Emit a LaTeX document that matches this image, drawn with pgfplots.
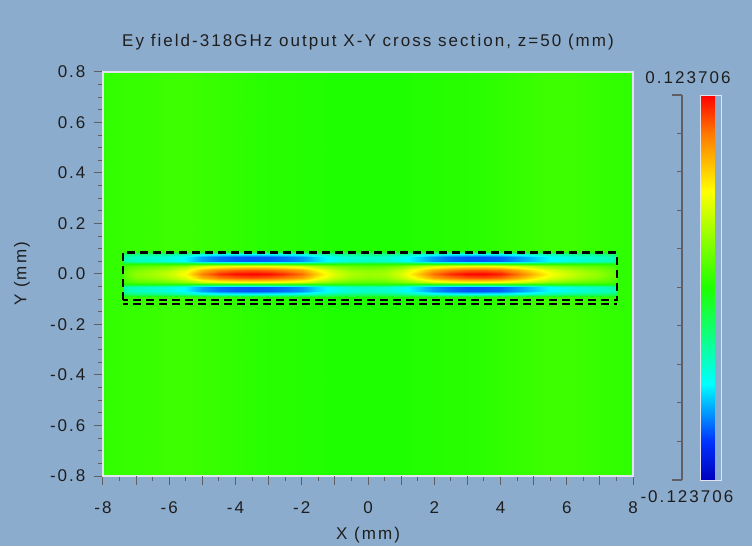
\documentclass[border=0pt]{standalone}
\usepackage{fontspec}
\setmainfont{Liberation Sans}[LetterSpace=12]
\usepackage{pgfplots}
\pgfplotsset{compat=1.18}
\definecolor{bgc}{RGB}{140,172,205}
\definecolor{tickc}{RGB}{95,95,100}
\definecolor{framec}{RGB}{228,228,238}
\definecolor{txt}{RGB}{30,30,30}
\begin{document}
\begin{tikzpicture}[font=\fontsize{17}{20}\selectfont, text=txt]
\fill[bgc] (0,0) rectangle (752pt,546pt);
\useasboundingbox (0,0) rectangle (752pt,546pt);
\begin{axis}[
  at={(103pt,70pt)}, anchor=south west, scale only axis,
  width=530pt, height=404pt,
  xmin=-8, xmax=8, ymin=-0.8, ymax=0.8,
  axis on top,
  colormap={ey}{rgb255(0pt)=(0,0,190); rgb255(2pt)=(0,50,255); rgb255(5pt)=(0,255,255); rgb255(10pt)=(30,255,0); rgb255(15pt)=(255,255,0); rgb255(18pt)=(255,120,0); rgb255(20pt)=(255,0,0)},
  point meta min=-0.123706, point meta max=0.123706,
  colorbar,
  colorbar style={at={(parent axis.south east)}, anchor=south west, xshift=59pt, yshift=-4pt,
    scale only axis, width=21pt, height=385pt, ytick=\empty, xtick=\empty,
    axis line style={draw=framec, line width=0.8pt}},
  xtick={-8,-6,...,8}, minor x tick num=3,
  extra x ticks={-7,-5,-3,-1,1,3,5,7}, extra x tick labels={},
  ytick={-0.8,-0.6,-0.4,-0.2,0,0.2,0.4,0.6,0.8}, minor y tick num=3,
  tick align=outside, tick pos=left,
  major tick length=9pt, minor tick length=5pt,
  tick style={draw=tickc, line width=1pt},
  axis line style={draw=framec, line width=1.2pt},
  /pgf/number format/assume math mode=true,
  yticklabel style={xshift=-5pt, /pgf/number format/fixed, /pgf/number format/fixed zerofill, /pgf/number format/precision=1},
  xticklabel style={yshift=-13pt},
  title={Ey field-318GHz output X-Y cross section, z=50 (mm)},
  title style={at={(axis description cs:0.5,1.048)}, anchor=base},
  xlabel={X (mm)},
  xlabel style={at={(axis description cs:0.5,-0.146)}, anchor=center},
  ylabel={Y (mm)},
  ylabel style={at={(axis description cs:-0.1528,0.5)}, anchor=center},
]
\addplot[surf, shader=interp, mesh/ordering=y varies, mesh/rows=17, mesh/cols=35,
  point meta={\thisrow{v}*0.123706}] table[row sep=\\] {
x y v\\
-8 -0.8 0.04\\ -8 -0.092 0.04\\ -8 -0.08 0.04\\ -8 -0.066 0.04\\ -8 -0.053 0.04\\ -8 -0.04 0.04\\ -8 -0.03 0.04\\ -8 -0.015 0.04\\ -8 0 0.04\\ -8 0.015 0.04\\ -8 0.03 0.04\\ -8 0.04 0.04\\ -8 0.053 0.04\\ -8 0.066 0.04\\ -8 0.08 0.04\\ -8 0.092 0.04\\ -8 0.8 0.04\\
-7.42 -0.8 0.05\\ -7.42 -0.092 0.05\\ -7.42 -0.08 0.05\\ -7.42 -0.066 0.05\\ -7.42 -0.053 0.05\\ -7.42 -0.04 0.05\\ -7.42 -0.03 0.05\\ -7.42 -0.015 0.05\\ -7.42 0 0.05\\ -7.42 0.015 0.05\\ -7.42 0.03 0.05\\ -7.42 0.04 0.05\\ -7.42 0.053 0.05\\ -7.42 0.066 0.05\\ -7.42 0.08 0.05\\ -7.42 0.092 0.05\\ -7.42 0.8 0.05\\
-7.38 -0.8 0.05\\ -7.38 -0.092 0.05\\ -7.38 -0.08 -0.21\\ -7.38 -0.066 -0.33\\ -7.38 -0.053 -0.33\\ -7.38 -0.04 0.01\\ -7.38 -0.03 0.08\\ -7.38 -0.015 0.13\\ -7.38 0 0.15\\ -7.38 0.015 0.13\\ -7.38 0.03 0.08\\ -7.38 0.04 0.01\\ -7.38 0.053 -0.33\\ -7.38 0.066 -0.33\\ -7.38 0.08 -0.21\\ -7.38 0.092 0.05\\ -7.38 0.8 0.05\\
-7 -0.8 0.05\\ -7 -0.092 0.05\\ -7 -0.08 -0.25\\ -7 -0.066 -0.38\\ -7 -0.053 -0.38\\ -7 -0.04 0.01\\ -7 -0.03 0.13\\ -7 -0.015 0.21\\ -7 0 0.25\\ -7 0.015 0.21\\ -7 0.03 0.13\\ -7 0.04 0.01\\ -7 0.053 -0.38\\ -7 0.066 -0.38\\ -7 0.08 -0.25\\ -7 0.092 0.05\\ -7 0.8 0.05\\
-6.5 -0.8 0.06\\ -6.5 -0.092 0.06\\ -6.5 -0.08 -0.26\\ -6.5 -0.066 -0.40\\ -6.5 -0.053 -0.40\\ -6.5 -0.04 0.02\\ -6.5 -0.03 0.15\\ -6.5 -0.015 0.26\\ -6.5 0 0.30\\ -6.5 0.015 0.26\\ -6.5 0.03 0.15\\ -6.5 0.04 0.02\\ -6.5 0.053 -0.40\\ -6.5 0.066 -0.40\\ -6.5 0.08 -0.26\\ -6.5 0.092 0.06\\ -6.5 0.8 0.06\\
-6 -0.8 0.07\\ -6 -0.092 0.07\\ -6 -0.08 -0.29\\ -6 -0.066 -0.44\\ -6 -0.053 -0.44\\ -6 -0.04 0.02\\ -6 -0.03 0.19\\ -6 -0.015 0.32\\ -6 0 0.38\\ -6 0.015 0.32\\ -6 0.03 0.19\\ -6 0.04 0.02\\ -6 0.053 -0.44\\ -6 0.066 -0.44\\ -6 0.08 -0.29\\ -6 0.092 0.07\\ -6 0.8 0.07\\
-5.5 -0.8 0.07\\ -5.5 -0.092 0.07\\ -5.5 -0.08 -0.33\\ -5.5 -0.066 -0.51\\ -5.5 -0.053 -0.51\\ -5.5 -0.04 0.03\\ -5.5 -0.03 0.26\\ -5.5 -0.015 0.44\\ -5.5 0 0.52\\ -5.5 0.015 0.44\\ -5.5 0.03 0.26\\ -5.5 0.04 0.03\\ -5.5 0.053 -0.51\\ -5.5 0.066 -0.51\\ -5.5 0.08 -0.33\\ -5.5 0.092 0.07\\ -5.5 0.8 0.07\\
-5 -0.8 0.06\\ -5 -0.092 0.06\\ -5 -0.08 -0.42\\ -5 -0.066 -0.64\\ -5 -0.053 -0.64\\ -5 -0.04 0.04\\ -5 -0.03 0.39\\ -5 -0.015 0.66\\ -5 0 0.78\\ -5 0.015 0.66\\ -5 0.03 0.39\\ -5 0.04 0.04\\ -5 0.053 -0.64\\ -5 0.066 -0.64\\ -5 0.08 -0.42\\ -5 0.092 0.06\\ -5 0.8 0.06\\
-4.5 -0.8 0.05\\ -4.5 -0.092 0.05\\ -4.5 -0.08 -0.46\\ -4.5 -0.066 -0.71\\ -4.5 -0.053 -0.71\\ -4.5 -0.04 0.05\\ -4.5 -0.03 0.46\\ -4.5 -0.015 0.78\\ -4.5 0 0.92\\ -4.5 0.015 0.78\\ -4.5 0.03 0.46\\ -4.5 0.04 0.05\\ -4.5 0.053 -0.71\\ -4.5 0.066 -0.71\\ -4.5 0.08 -0.46\\ -4.5 0.092 0.05\\ -4.5 0.8 0.05\\
-4 -0.8 0.04\\ -4 -0.092 0.04\\ -4 -0.08 -0.48\\ -4 -0.066 -0.74\\ -4 -0.053 -0.74\\ -4 -0.04 0.05\\ -4 -0.03 0.49\\ -4 -0.015 0.83\\ -4 0 0.98\\ -4 0.015 0.83\\ -4 0.03 0.49\\ -4 0.04 0.05\\ -4 0.053 -0.74\\ -4 0.066 -0.74\\ -4 0.08 -0.48\\ -4 0.092 0.04\\ -4 0.8 0.04\\
-3.5 -0.8 0.03\\ -3.5 -0.092 0.03\\ -3.5 -0.08 -0.49\\ -3.5 -0.066 -0.75\\ -3.5 -0.053 -0.75\\ -3.5 -0.04 0.05\\ -3.5 -0.03 0.50\\ -3.5 -0.015 0.85\\ -3.5 0 1.00\\ -3.5 0.015 0.85\\ -3.5 0.03 0.50\\ -3.5 0.04 0.05\\ -3.5 0.053 -0.75\\ -3.5 0.066 -0.75\\ -3.5 0.08 -0.49\\ -3.5 0.092 0.03\\ -3.5 0.8 0.03\\
-3 -0.8 0.02\\ -3 -0.092 0.02\\ -3 -0.08 -0.48\\ -3 -0.066 -0.74\\ -3 -0.053 -0.74\\ -3 -0.04 0.05\\ -3 -0.03 0.49\\ -3 -0.015 0.83\\ -3 0 0.98\\ -3 0.015 0.83\\ -3 0.03 0.49\\ -3 0.04 0.05\\ -3 0.053 -0.74\\ -3 0.066 -0.74\\ -3 0.08 -0.48\\ -3 0.092 0.02\\ -3 0.8 0.02\\
-2.5 -0.8 0.02\\ -2.5 -0.092 0.02\\ -2.5 -0.08 -0.46\\ -2.5 -0.066 -0.71\\ -2.5 -0.053 -0.71\\ -2.5 -0.04 0.05\\ -2.5 -0.03 0.46\\ -2.5 -0.015 0.78\\ -2.5 0 0.92\\ -2.5 0.015 0.78\\ -2.5 0.03 0.46\\ -2.5 0.04 0.05\\ -2.5 0.053 -0.71\\ -2.5 0.066 -0.71\\ -2.5 0.08 -0.46\\ -2.5 0.092 0.02\\ -2.5 0.8 0.02\\
-2 -0.8 0.01\\ -2 -0.092 0.01\\ -2 -0.08 -0.43\\ -2 -0.066 -0.66\\ -2 -0.053 -0.66\\ -2 -0.04 0.04\\ -2 -0.03 0.41\\ -2 -0.015 0.70\\ -2 0 0.82\\ -2 0.015 0.70\\ -2 0.03 0.41\\ -2 0.04 0.04\\ -2 0.053 -0.66\\ -2 0.066 -0.66\\ -2 0.08 -0.43\\ -2 0.092 0.01\\ -2 0.8 0.01\\
-1.5 -0.8 0.01\\ -1.5 -0.092 0.01\\ -1.5 -0.08 -0.36\\ -1.5 -0.066 -0.55\\ -1.5 -0.053 -0.55\\ -1.5 -0.04 0.03\\ -1.5 -0.03 0.30\\ -1.5 -0.015 0.51\\ -1.5 0 0.60\\ -1.5 0.015 0.51\\ -1.5 0.03 0.30\\ -1.5 0.04 0.03\\ -1.5 0.053 -0.55\\ -1.5 0.066 -0.55\\ -1.5 0.08 -0.36\\ -1.5 0.092 0.01\\ -1.5 0.8 0.01\\
-1 -0.8 0.00\\ -1 -0.092 0.00\\ -1 -0.08 -0.30\\ -1 -0.066 -0.46\\ -1 -0.053 -0.46\\ -1 -0.04 0.02\\ -1 -0.03 0.21\\ -1 -0.015 0.36\\ -1 0 0.42\\ -1 0.015 0.36\\ -1 0.03 0.21\\ -1 0.04 0.02\\ -1 0.053 -0.46\\ -1 0.066 -0.46\\ -1 0.08 -0.30\\ -1 0.092 0.00\\ -1 0.8 0.00\\
-0.5 -0.8 0.00\\ -0.5 -0.092 0.00\\ -0.5 -0.08 -0.27\\ -0.5 -0.066 -0.41\\ -0.5 -0.053 -0.41\\ -0.5 -0.04 0.02\\ -0.5 -0.03 0.16\\ -0.5 -0.015 0.27\\ -0.5 0 0.32\\ -0.5 0.015 0.27\\ -0.5 0.03 0.16\\ -0.5 0.04 0.02\\ -0.5 0.053 -0.41\\ -0.5 0.066 -0.41\\ -0.5 0.08 -0.27\\ -0.5 0.092 0.00\\ -0.5 0.8 0.00\\
0 -0.8 0.00\\ 0 -0.092 0.00\\ 0 -0.08 -0.25\\ 0 -0.066 -0.39\\ 0 -0.053 -0.39\\ 0 -0.04 0.01\\ 0 -0.03 0.14\\ 0 -0.015 0.24\\ 0 0 0.28\\ 0 0.015 0.24\\ 0 0.03 0.14\\ 0 0.04 0.01\\ 0 0.053 -0.39\\ 0 0.066 -0.39\\ 0 0.08 -0.25\\ 0 0.092 0.00\\ 0 0.8 0.00\\
0.5 -0.8 0.00\\ 0.5 -0.092 0.00\\ 0.5 -0.08 -0.26\\ 0.5 -0.066 -0.40\\ 0.5 -0.053 -0.40\\ 0.5 -0.04 0.02\\ 0.5 -0.03 0.15\\ 0.5 -0.015 0.26\\ 0.5 0 0.30\\ 0.5 0.015 0.26\\ 0.5 0.03 0.15\\ 0.5 0.04 0.02\\ 0.5 0.053 -0.40\\ 0.5 0.066 -0.40\\ 0.5 0.08 -0.26\\ 0.5 0.092 0.00\\ 0.5 0.8 0.00\\
1 -0.8 0.00\\ 1 -0.092 0.00\\ 1 -0.08 -0.30\\ 1 -0.066 -0.46\\ 1 -0.053 -0.46\\ 1 -0.04 0.02\\ 1 -0.03 0.21\\ 1 -0.015 0.36\\ 1 0 0.42\\ 1 0.015 0.36\\ 1 0.03 0.21\\ 1 0.04 0.02\\ 1 0.053 -0.46\\ 1 0.066 -0.46\\ 1 0.08 -0.30\\ 1 0.092 0.00\\ 1 0.8 0.00\\
1.5 -0.8 0.01\\ 1.5 -0.092 0.01\\ 1.5 -0.08 -0.36\\ 1.5 -0.066 -0.56\\ 1.5 -0.053 -0.56\\ 1.5 -0.04 0.03\\ 1.5 -0.03 0.31\\ 1.5 -0.015 0.53\\ 1.5 0 0.62\\ 1.5 0.015 0.53\\ 1.5 0.03 0.31\\ 1.5 0.04 0.03\\ 1.5 0.053 -0.56\\ 1.5 0.066 -0.56\\ 1.5 0.08 -0.36\\ 1.5 0.092 0.01\\ 1.5 0.8 0.01\\
2 -0.8 0.01\\ 2 -0.092 0.01\\ 2 -0.08 -0.43\\ 2 -0.066 -0.66\\ 2 -0.053 -0.66\\ 2 -0.04 0.04\\ 2 -0.03 0.41\\ 2 -0.015 0.70\\ 2 0 0.82\\ 2 0.015 0.70\\ 2 0.03 0.41\\ 2 0.04 0.04\\ 2 0.053 -0.66\\ 2 0.066 -0.66\\ 2 0.08 -0.43\\ 2 0.092 0.01\\ 2 0.8 0.01\\
2.5 -0.8 0.02\\ 2.5 -0.092 0.02\\ 2.5 -0.08 -0.47\\ 2.5 -0.066 -0.72\\ 2.5 -0.053 -0.72\\ 2.5 -0.04 0.05\\ 2.5 -0.03 0.47\\ 2.5 -0.015 0.79\\ 2.5 0 0.93\\ 2.5 0.015 0.79\\ 2.5 0.03 0.47\\ 2.5 0.04 0.05\\ 2.5 0.053 -0.72\\ 2.5 0.066 -0.72\\ 2.5 0.08 -0.47\\ 2.5 0.092 0.02\\ 2.5 0.8 0.02\\
3 -0.8 0.02\\ 3 -0.092 0.02\\ 3 -0.08 -0.49\\ 3 -0.066 -0.75\\ 3 -0.053 -0.75\\ 3 -0.04 0.05\\ 3 -0.03 0.50\\ 3 -0.015 0.84\\ 3 0 0.99\\ 3 0.015 0.84\\ 3 0.03 0.50\\ 3 0.04 0.05\\ 3 0.053 -0.75\\ 3 0.066 -0.75\\ 3 0.08 -0.49\\ 3 0.092 0.02\\ 3 0.8 0.02\\
3.5 -0.8 0.03\\ 3.5 -0.092 0.03\\ 3.5 -0.08 -0.49\\ 3.5 -0.066 -0.75\\ 3.5 -0.053 -0.75\\ 3.5 -0.04 0.05\\ 3.5 -0.03 0.50\\ 3.5 -0.015 0.85\\ 3.5 0 1.00\\ 3.5 0.015 0.85\\ 3.5 0.03 0.50\\ 3.5 0.04 0.05\\ 3.5 0.053 -0.75\\ 3.5 0.066 -0.75\\ 3.5 0.08 -0.49\\ 3.5 0.092 0.03\\ 3.5 0.8 0.03\\
4 -0.8 0.04\\ 4 -0.092 0.04\\ 4 -0.08 -0.47\\ 4 -0.066 -0.73\\ 4 -0.053 -0.73\\ 4 -0.04 0.05\\ 4 -0.03 0.48\\ 4 -0.015 0.81\\ 4 0 0.95\\ 4 0.015 0.81\\ 4 0.03 0.48\\ 4 0.04 0.05\\ 4 0.053 -0.73\\ 4 0.066 -0.73\\ 4 0.08 -0.47\\ 4 0.092 0.04\\ 4 0.8 0.04\\
4.5 -0.8 0.05\\ 4.5 -0.092 0.05\\ 4.5 -0.08 -0.43\\ 4.5 -0.066 -0.66\\ 4.5 -0.053 -0.66\\ 4.5 -0.04 0.04\\ 4.5 -0.03 0.41\\ 4.5 -0.015 0.70\\ 4.5 0 0.82\\ 4.5 0.015 0.70\\ 4.5 0.03 0.41\\ 4.5 0.04 0.04\\ 4.5 0.053 -0.66\\ 4.5 0.066 -0.66\\ 4.5 0.08 -0.43\\ 4.5 0.092 0.05\\ 4.5 0.8 0.05\\
5 -0.8 0.06\\ 5 -0.092 0.06\\ 5 -0.08 -0.38\\ 5 -0.066 -0.58\\ 5 -0.053 -0.58\\ 5 -0.04 0.03\\ 5 -0.03 0.33\\ 5 -0.015 0.55\\ 5 0 0.65\\ 5 0.015 0.55\\ 5 0.03 0.33\\ 5 0.04 0.03\\ 5 0.053 -0.58\\ 5 0.066 -0.58\\ 5 0.08 -0.38\\ 5 0.092 0.06\\ 5 0.8 0.06\\
5.5 -0.8 0.07\\ 5.5 -0.092 0.07\\ 5.5 -0.08 -0.33\\ 5.5 -0.066 -0.50\\ 5.5 -0.053 -0.50\\ 5.5 -0.04 0.03\\ 5.5 -0.03 0.25\\ 5.5 -0.015 0.43\\ 5.5 0 0.50\\ 5.5 0.015 0.43\\ 5.5 0.03 0.25\\ 5.5 0.04 0.03\\ 5.5 0.053 -0.50\\ 5.5 0.066 -0.50\\ 5.5 0.08 -0.33\\ 5.5 0.092 0.07\\ 5.5 0.8 0.07\\
6 -0.8 0.07\\ 6 -0.092 0.07\\ 6 -0.08 -0.29\\ 6 -0.066 -0.45\\ 6 -0.053 -0.45\\ 6 -0.04 0.02\\ 6 -0.03 0.20\\ 6 -0.015 0.34\\ 6 0 0.40\\ 6 0.015 0.34\\ 6 0.03 0.20\\ 6 0.04 0.02\\ 6 0.053 -0.45\\ 6 0.066 -0.45\\ 6 0.08 -0.29\\ 6 0.092 0.07\\ 6 0.8 0.07\\
6.5 -0.8 0.06\\ 6.5 -0.092 0.06\\ 6.5 -0.08 -0.27\\ 6.5 -0.066 -0.41\\ 6.5 -0.053 -0.41\\ 6.5 -0.04 0.02\\ 6.5 -0.03 0.16\\ 6.5 -0.015 0.27\\ 6.5 0 0.32\\ 6.5 0.015 0.27\\ 6.5 0.03 0.16\\ 6.5 0.04 0.02\\ 6.5 0.053 -0.41\\ 6.5 0.066 -0.41\\ 6.5 0.08 -0.27\\ 6.5 0.092 0.06\\ 6.5 0.8 0.06\\
7 -0.8 0.05\\ 7 -0.092 0.05\\ 7 -0.08 -0.25\\ 7 -0.066 -0.38\\ 7 -0.053 -0.38\\ 7 -0.04 0.01\\ 7 -0.03 0.13\\ 7 -0.015 0.21\\ 7 0 0.25\\ 7 0.015 0.21\\ 7 0.03 0.13\\ 7 0.04 0.01\\ 7 0.053 -0.38\\ 7 0.066 -0.38\\ 7 0.08 -0.25\\ 7 0.092 0.05\\ 7 0.8 0.05\\
7.48 -0.8 0.04\\ 7.48 -0.092 0.04\\ 7.48 -0.08 -0.21\\ 7.48 -0.066 -0.33\\ 7.48 -0.053 -0.33\\ 7.48 -0.04 0.01\\ 7.48 -0.03 0.08\\ 7.48 -0.015 0.13\\ 7.48 0 0.15\\ 7.48 0.015 0.13\\ 7.48 0.03 0.08\\ 7.48 0.04 0.01\\ 7.48 0.053 -0.33\\ 7.48 0.066 -0.33\\ 7.48 0.08 -0.21\\ 7.48 0.092 0.04\\ 7.48 0.8 0.04\\
7.52 -0.8 0.04\\ 7.52 -0.092 0.04\\ 7.52 -0.08 0.04\\ 7.52 -0.066 0.04\\ 7.52 -0.053 0.04\\ 7.52 -0.04 0.04\\ 7.52 -0.03 0.04\\ 7.52 -0.015 0.04\\ 7.52 0 0.04\\ 7.52 0.015 0.04\\ 7.52 0.03 0.04\\ 7.52 0.04 0.04\\ 7.52 0.053 0.04\\ 7.52 0.066 0.04\\ 7.52 0.08 0.04\\ 7.52 0.092 0.04\\ 7.52 0.8 0.04\\
8 -0.8 0.03\\ 8 -0.092 0.03\\ 8 -0.08 0.03\\ 8 -0.066 0.03\\ 8 -0.053 0.03\\ 8 -0.04 0.03\\ 8 -0.03 0.03\\ 8 -0.015 0.03\\ 8 0 0.03\\ 8 0.015 0.03\\ 8 0.03 0.03\\ 8 0.04 0.03\\ 8 0.053 0.03\\ 8 0.066 0.03\\ 8 0.08 0.03\\ 8 0.092 0.03\\ 8 0.8 0.03\\
};
\addplot[black, line width=2.3pt, dash pattern=on 8pt off 5pt] coordinates {(-7.40,-0.104) (-7.40,0.085) (7.52,0.085) (7.52,-0.104) (-7.40,-0.104)};
\addplot[black, line width=2.3pt, dash pattern=on 8pt off 5pt, dash phase=3pt] coordinates {(-7.40,-0.118) (7.52,-0.118)};
\end{axis}
\begin{axis}[
  at={(672pt,66pt)}, anchor=south west, scale only axis,
  width=10pt, height=385pt, xmin=0, xmax=1, ymin=0, ymax=1,
  axis x line=none, axis y line=right, clip=false,
  ytick={0.1,0.2,0.3,0.4,0.5,0.6,0.7,0.8,0.9}, yticklabels={},
  yticklabel style={opacity=0},
  tick align=inside, major tick length=5pt,
  tick style={draw=tickc, line width=1pt},
  axis line style={-, draw=tickc, line width=1.2pt},
]
\addplot[draw=tickc, line width=1.2pt] coordinates {(0,0) (1,0)};
\addplot[draw=tickc, line width=1.2pt] coordinates {(0,1) (1,1)};
\end{axis}
\node[anchor=center] at (688pt,468pt) {0.123706};
\node[anchor=center] at (687pt,49pt) {-0.123706};
\end{tikzpicture}
\end{document}
